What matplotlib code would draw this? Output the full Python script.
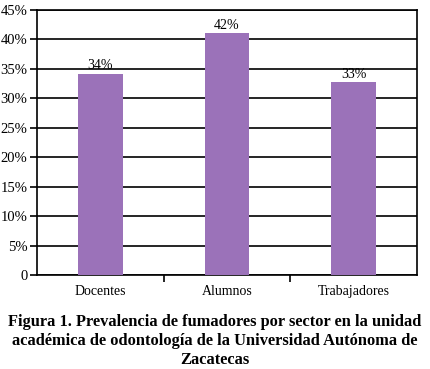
import matplotlib.pyplot as plt
from matplotlib.ticker import FuncFormatter

sectores = ['Docentes', 'Alumnos', 'Trabajadores']
prevalencia = [0.342, 0.411, 0.328]
etiquetas = ['34%', '42%', '33%']

plt.rcParams['font.family'] = ['Liberation Serif', 'DejaVu Serif']

fig = plt.figure(figsize=(4.30, 3.69), dpi=100)
ax = fig.add_axes([37 / 430, 1 - 275 / 369, 380 / 430, 265 / 369])

x = range(len(sectores))
ax.bar(x, prevalencia, width=0.355, color='#9B72B9', zorder=3)

for i, (v, t) in enumerate(zip(prevalencia, etiquetas)):
    ax.text(i, v + 0.002, t, ha='center', va='bottom', fontsize=10)

ax.set_xlim(-0.5, 2.5)
ax.set_ylim(0, 0.45)
ax.set_yticks([i * 0.05 for i in range(10)])
ax.yaxis.set_major_formatter(FuncFormatter(lambda v, p: '0' if v == 0 else f'{v * 100:.0f}%'))
ax.yaxis.grid(True, color='black', linewidth=1.2, zorder=0)

ax.set_xticks([0.5, 1.5], minor=False)
ax.set_xticklabels([])
ax.set_xticks(list(x), minor=True)
ax.set_xticklabels(sectores, minor=True)
ax.tick_params(axis='x', which='minor', length=0, pad=7, labelsize=10)
ax.tick_params(axis='x', which='major', length=5, width=1.2, direction='out')
ax.tick_params(axis='y', length=5, width=1.2, labelsize=10.5, pad=2)

for s in ax.spines.values():
    s.set_color('black')
    s.set_linewidth(1.2)

fig.text(0.5, 1 - 341 / 369,
         'Figura 1. Prevalencia de fumadores por sector en la unidad\n'
         'académica de odontología de la Universidad Autónoma de\n'
         'Zacatecas',
         ha='center', va='center', fontsize=11.8, fontweight='bold',
         linespacing=1.25)

fig.savefig('out.png', dpi=100)
